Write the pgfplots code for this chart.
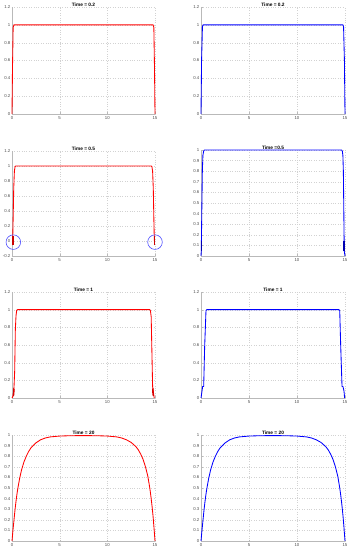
\documentclass[border=0pt]{standalone}
\usepackage{fontspec}
\setmainfont{Liberation Sans}
\usepackage{pgfplots}
\pgfplotsset{compat=1.18}
\pgfplotsset{
  every axis title/.style={at={(0.5,1)}, anchor=south, inner sep=0.6pt, font=\bfseries\fontsize{4.8}{5.5}\selectfont},
  panel/.style={
    scale only axis, width=143pt, height=106pt, anchor=south west,
    xmin=0, xmax=15, xtick={0,5,10,15},
    axis x line*=bottom, axis y line*=left,
    every outer x axis line/.append style={-},
    every outer y axis line/.append style={-},
    axis line style={-, gray!55, line width=0.4pt},
    grid=major, grid style={dotted, gray!35, line width=0.3pt},
    tick style={gray!55, line width=0.3pt}, tick align=inside, major tick length=1.5pt,
    ticklabel style={font=\fontsize{4.3}{5}\selectfont, text=black!70},
    yticklabel style={inner sep=1.5pt},
    xticklabel style={inner sep=2pt},
    /pgf/number format/assume math mode=true,
    clip=false,
  },
  redl/.style={red, line width=0.85pt, line join=round},
  bluel/.style={blue, line width=0.85pt, line join=round},
}
\pgfplotstableread{
x y
0 0
0.1 0.1
0.2 0.19
0.3 0.28
0.4 0.36
0.5 0.43
0.6 0.49
0.8 0.59
1.0 0.67
1.25 0.745
1.5 0.8
1.75 0.845
2.0 0.88
2.5 0.925
3.0 0.955
3.5 0.972
4 0.982
5 0.99
6 0.993
7 0.994
8 0.994
9 0.993
10 0.99
11 0.982
11.5 0.972
12 0.955
12.5 0.93
13 0.89
13.25 0.86
13.5 0.82
13.75 0.77
14 0.70
14.25 0.61
14.4 0.53
14.5 0.47
14.6 0.40
14.7 0.32
14.8 0.23
14.9 0.12
15 0
}\tlong
\begin{document}
\begin{tikzpicture}
\useasboundingbox (0,0) rectangle (349pt,550pt);
% Row 1
\begin{axis}[panel, at={(12pt,436pt)}, height=107pt, ymin=0, ymax=1.2, ytick={0,0.2,...,1.2}, title={Time = 0.2}]
\addplot[redl] coordinates {(0,0) (0.05,0.5) (0.12,0.97) (0.2,1) (14.8,1) (14.88,0.97) (14.95,0.5) (15,0)};
\end{axis}
\begin{axis}[panel, at={(201pt,436pt)}, width=144pt, height=107pt, ymin=0, ymax=1.2, ytick={0,0.2,...,1.2}, title={Time = 0.2}]
\addplot[bluel] coordinates {(0,0) (0.06,0.6) (0.15,0.98) (0.22,1) (14.78,1) (14.85,0.98) (14.94,0.6) (15,0)};
\end{axis}
% Row 2
\begin{axis}[panel, at={(12pt,294pt)}, height=105pt, ymin=-0.2, ymax=1.2, ytick={-0.2,0,0.2,...,1.2}, title={Time = 0.5}]
\addplot[redl] coordinates {(0.07,0) (0.12,0.3) (0.18,0.7) (0.25,0.93) (0.32,0.99) (0.4,1) (14.6,1) (14.68,0.99) (14.75,0.93) (14.82,0.7) (14.88,0.3) (14.93,0)};
\addplot[red!80!black, line width=1.3pt] coordinates {(0.1,-0.06) (0.1,0.06)};
\addplot[red!80!black, line width=1.3pt] coordinates {(14.92,-0.06) (14.92,0.06)};
\addplot[only marks, mark=o, mark size=7.3pt, mark options={blue!70, line width=0.6pt}] coordinates {(0.14,-0.015) (15,-0.015)};
\end{axis}
\begin{axis}[panel, at={(201pt,294pt)}, width=144pt, ymin=0, ymax=1, ytick={0,0.1,...,1}, title={Time =0.5}]
\addplot[bluel] coordinates {(0,0) (0.03,0.05) (0.08,0.4) (0.14,0.8) (0.2,0.95) (0.28,0.99) (0.35,1) (14.65,1) (14.72,0.99) (14.78,0.95) (14.83,0.8) (14.88,0.4) (14.92,0.05) (15,0)};
\addplot[blue!70!black, line width=1.3pt] coordinates {(0.02,0.05) (0.02,0.14)};
\addplot[blue!70!black, line width=1.3pt] coordinates {(14.9,0.05) (14.9,0.14)};
\end{axis}
% Row 3
\begin{axis}[panel, at={(12pt,152pt)}, ymin=0, ymax=1.2, ytick={0,0.2,...,1.2}, title={Time = 1}]
\addplot[redl] coordinates {(0,0) (0.1,0.02) (0.14,0.05) (0.2,0.1) (0.28,0.3) (0.35,0.77) (0.42,0.93) (0.49,0.99) (0.56,1) (14.45,1) (14.52,0.99) (14.6,0.92) (14.68,0.5) (14.75,0.13) (14.85,0.05) (14.92,0)};
\addplot[red!85!black, line width=0.5pt] coordinates {(0.12,0.02) (0.15,0.11) (0.17,0.02) (0.2,0.12) (0.22,0.03) (0.25,0.1)};
\addplot[red!85!black, line width=0.5pt] coordinates {(14.72,0.1) (14.75,0.03) (14.78,0.12) (14.8,0.02) (14.83,0.11) (14.86,0.02)};
\end{axis}
\begin{axis}[panel, at={(201pt,152pt)}, width=144pt, ymin=0, ymax=1.2, ytick={0,0.2,...,1.2}, title={Time = 1}]
\addplot[bluel] coordinates {(0,0) (0.1,0.075) (0.17,0.13) (0.28,0.13) (0.38,0.58) (0.52,0.99) (0.6,1) (14.37,1) (14.45,0.99) (14.55,0.6) (14.69,0.13) (14.79,0.13) (14.9,0.075) (14.96,0)};
\end{axis}
% Row 4
\begin{axis}[panel, at={(12pt,9pt)}, ymin=0, ymax=1, ytick={0,0.1,...,1}, title={Time = 20}]
\addplot[redl] table {\tlong};
\end{axis}
\begin{axis}[panel, at={(201pt,9pt)}, width=144pt, ymin=0, ymax=1, ytick={0,0.1,...,1}, title={Time = 20}]
\addplot[bluel] table {\tlong};
\end{axis}
\end{tikzpicture}
\end{document}
